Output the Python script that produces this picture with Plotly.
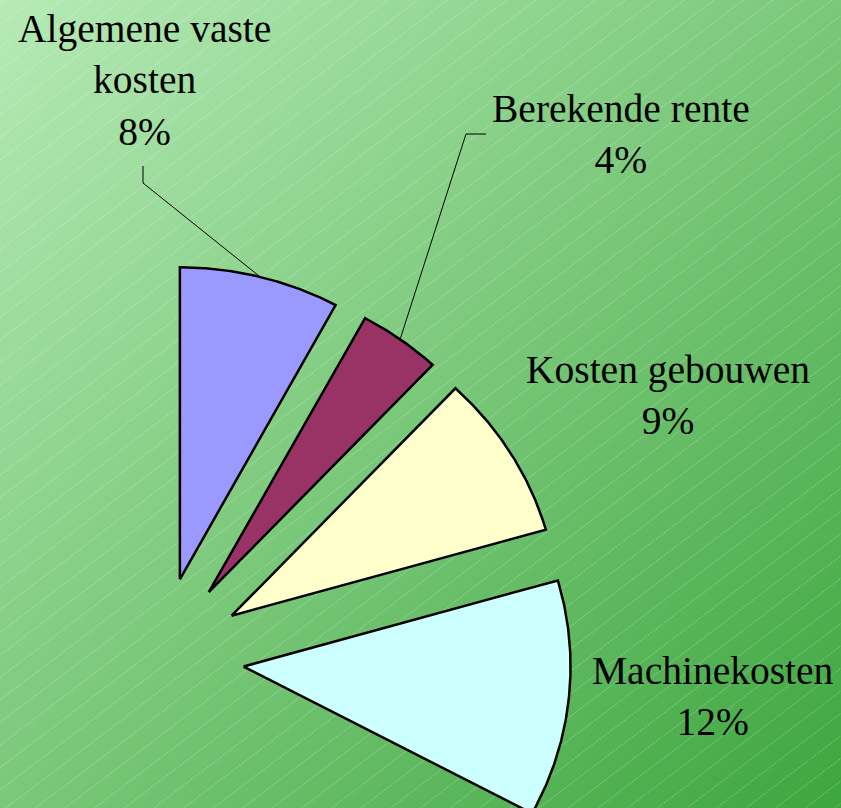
import numpy as np
import plotly.graph_objects as go

# ---------------- data ----------------
CATEGORIES = ["Algemene vaste kosten", "Berekende rente", "Kosten gebouwen", "Machinekosten"]
LABEL_LINES = ["Algemene vaste<br>kosten", "Berekende rente", "Kosten gebouwen", "Machinekosten"]
PERCENTS = [7.9, 4.1, 8.55, 12.25]        # share of total (rest of the pie is not shown)
COLORS = ["#9999FF", "#993366", "#FFFFCC", "#CCFFFF"]

# ---------------- layout constants ----------------
W, H = 841, 808
PULL = 0.26                 # explode distance, in radii
CX_PX, CY_PX = 159, 658     # pie centre in pixels
RX_PX, RY_PX = 327, 312     # radius in pixels (x, y)

# label centres (pixels) and leader-line points (pixels)
LABEL_POS_PX = [(144, 81), (621, 134), (668, 395), (713, 696)]
LEADERS_PX = {0: [(143, 183), (143, 166)], 1: [(466, 134), (486, 134)]}

FONT = "Liberation Serif"
FONT_SIZE = 39.5

fig = go.Figure()

# ---- background: diagonal green gradient ----
g = np.linspace(-0.05, 1.05, 23)
Z = [[(gx + (1 - gy)) / 2 for gx in g] for gy in g]
fig.add_trace(go.Heatmap(
    x=g, y=g, z=Z, zmin=0, zmax=1, zsmooth="best", showscale=False,
    colorscale=[[0, "#b6eab6"], [0.5, "#7ac87a"], [1, "#3ea63e"]],
    hoverinfo="skip"))

# ---- background hatch lines ----
hx, hy = [], []
slope = 0.76
for c in np.arange(-20, H + slope * W + 30, 22.5):
    hx += [0, 1, None]
    hy += [1 - c / H, 1 - (c - slope * W) / H, None]
fig.add_trace(go.Scatter(
    x=hx, y=hy, mode="lines", hoverinfo="skip",
    line=dict(color="rgba(255,255,255,0.4)", width=1, dash="1px,1px")))

# ---- exploded pie slices ----
cum = np.concatenate([[0], np.cumsum(PERCENTS)])
mids = []
for i, (cat, col) in enumerate(zip(CATEGORIES, COLORS)):
    a0 = cum[i] / 100 * 2 * np.pi
    a1 = cum[i + 1] / 100 * 2 * np.pi
    m = (a0 + a1) / 2
    mids.append(m)
    ox, oy = PULL * np.sin(m), PULL * np.cos(m)
    t = np.linspace(a0, a1, 120)
    xs = [ox] + list(ox + np.sin(t)) + [ox]
    ys = [oy] + list(oy + np.cos(t)) + [oy]
    fig.add_trace(go.Scatter(
        x=xs, y=ys, mode="lines", fill="toself", fillcolor=col, name=cat,
        line=dict(color="black", width=2.5), xaxis="x2", yaxis="y2",
        hoverinfo="skip"))


def px2data(px, py):
    return (px - CX_PX) / RX_PX, (CY_PX - py) / RY_PX


# ---- leader lines ----
for i, pts in LEADERS_PX.items():
    m = mids[i]
    lx = [(1 + PULL) * np.sin(m)]
    ly = [(1 + PULL) * np.cos(m)]
    for (px, py) in pts:
        dx, dy = px2data(px, py)
        lx.append(dx)
        ly.append(dy)
    fig.add_trace(go.Scatter(
        x=lx, y=ly, mode="lines", line=dict(color="black", width=1),
        xaxis="x2", yaxis="y2", hoverinfo="skip"))

# ---- labels ----
for i, (txt, pct) in enumerate(zip(LABEL_LINES, PERCENTS)):
    px, py = LABEL_POS_PX[i]
    fig.add_annotation(
        x=px / W, y=1 - py / H, xref="paper", yref="paper",
        text=f"{txt}<br>{round(pct)}%", showarrow=False,
        xanchor="center", yanchor="middle", align="center",
        font=dict(family=FONT, size=FONT_SIZE, color="black"))

fig.update_layout(
    width=W, height=H, margin=dict(l=0, r=0, t=0, b=0),
    showlegend=False, paper_bgcolor="#7ac87a", plot_bgcolor="#7ac87a",
    xaxis=dict(range=[0, 1], visible=False, fixedrange=True),
    yaxis=dict(range=[0, 1], visible=False, fixedrange=True),
    xaxis2=dict(range=[-CX_PX / RX_PX, (W - CX_PX) / RX_PX], overlaying="x",
                visible=False, fixedrange=True),
    yaxis2=dict(range=[-(H - CY_PX) / RY_PX, CY_PX / RY_PX], overlaying="y",
                visible=False, fixedrange=True),
)

fig.write_html(
    "out.html", config={"displayModeBar": False},
    post_script="document.body.style.margin='0';document.body.style.overflow='hidden';")
